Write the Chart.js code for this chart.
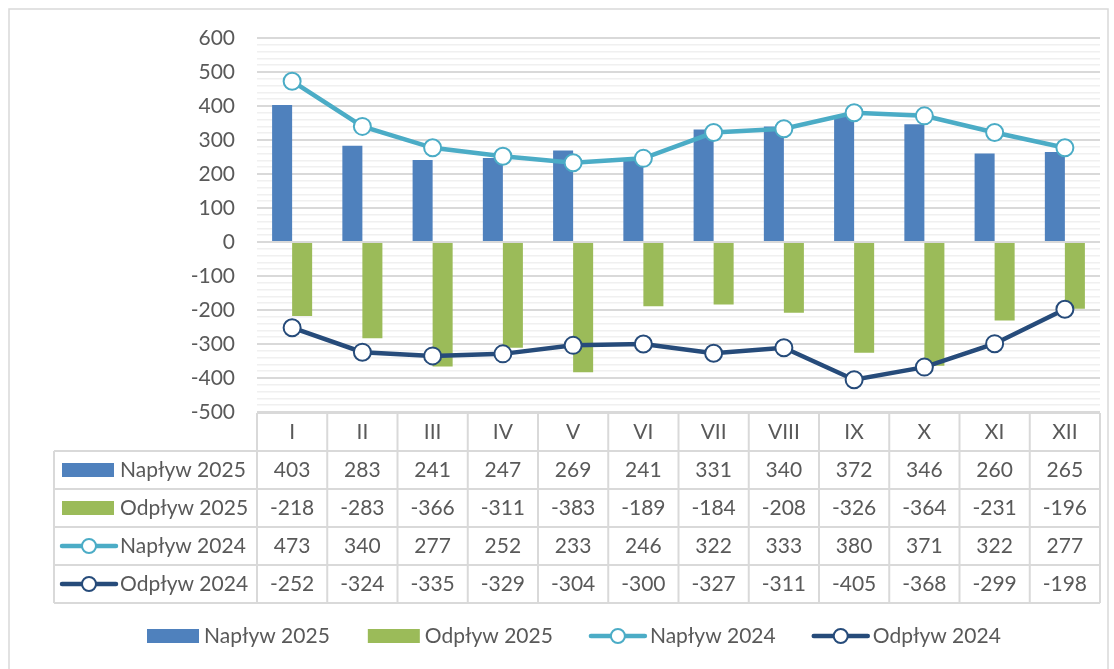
<!DOCTYPE html>
<html>
<head>
<meta charset="utf-8">
<script src="https://cdn.jsdelivr.net/npm/chart.js@4.4.1/dist/chart.umd.min.js"></script>
<style>
  html, body { margin: 0; padding: 0; background: #fff; }
  canvas { display: block; }
</style>
</head>
<body>
<canvas id="chart" width="1114" height="669"></canvas>
<script>
const months = ['I', 'II', 'III', 'IV', 'V', 'VI', 'VII', 'VIII', 'IX', 'X', 'XI', 'XII'];
const naplyw2025 = [403, 283, 241, 247, 269, 241, 331, 340, 372, 346, 260, 265];
const odplyw2025 = [-218, -283, -366, -311, -383, -189, -184, -208, -326, -364, -231, -196];
const naplyw2024 = [473, 340, 277, 252, 233, 246, 322, 333, 380, 371, 322, 277];
const odplyw2024 = [-252, -324, -335, -329, -304, -300, -327, -311, -405, -368, -299, -198];

const FONT = 'Lato, "Open Sans", sans-serif';
const TEXT = '#595959';

// data table + legend under the plot, placed from the x scale
const tablePlugin = {
  id: 'dataTable',
  afterDraw(chart) {
    const ctx = chart.ctx;
    const x = chart.scales.x;
    const area = chart.chartArea;
    const ds = chart.data.datasets;
    const colW = (area.right - area.left) / months.length;
    const top = area.bottom + 1;
    const rowH = 38;
    const tableLeft = 54;

    ctx.save();
    ctx.strokeStyle = '#d9d9d9';
    ctx.lineWidth = 2;

    // horizontal lines
    ctx.beginPath();
    ctx.moveTo(area.left, top); ctx.lineTo(area.right, top);
    for (let r = 1; r <= 5; r++) {
      const y = top + r * rowH;
      ctx.moveTo(tableLeft, y); ctx.lineTo(area.right, y);
    }
    // vertical lines
    for (let c = 0; c <= months.length; c++) {
      const xx = area.left + c * colW;
      ctx.moveTo(xx, top); ctx.lineTo(xx, top + 5 * rowH);
    }
    ctx.moveTo(tableLeft, top + rowH); ctx.lineTo(tableLeft, top + 5 * rowH);
    ctx.stroke();

    ctx.font = '21px ' + FONT;
    ctx.fillStyle = TEXT;
    ctx.textAlign = 'center';
    ctx.textBaseline = 'middle';
    months.forEach((m, i) => {
      ctx.fillText(m, x.getPixelForValue(i), top + rowH / 2);
    });
    ds.forEach((d, r) => {
      const cy = top + (r + 1.5) * rowH;
      ctx.fillStyle = TEXT;
      ctx.textAlign = 'center';
      d.data.forEach((v, i) => {
        ctx.fillText(String(v), x.getPixelForValue(i), cy);
      });
      drawKey(ctx, d, 61, cy);
      ctx.fillStyle = TEXT;
      ctx.textAlign = 'left';
      ctx.fillText(d.label, 120, cy);
    });

    // bottom legend
    let lx = 146;
    const ly = 636;
    ds.forEach((d) => {
      drawKey(ctx, d, lx, ly);
      const tx = lx + (d.type === 'line' ? 60 : 58);
      ctx.fillStyle = TEXT;
      ctx.textAlign = 'left';
      ctx.fillText(d.label, tx, ly);
      lx = tx + ctx.measureText(d.label).width + 37;
    });

    // outer frame
    ctx.strokeStyle = '#d9d9d9';
    ctx.lineWidth = 1.5;
    ctx.strokeRect(9, 9, 1099, 700);
    ctx.restore();
  }
};

function drawKey(ctx, d, x0, cy) {
  if (d.type === 'line') {
    ctx.strokeStyle = d.borderColor;
    ctx.lineWidth = 4.5;
    ctx.lineCap = 'round';
    ctx.beginPath();
    ctx.moveTo(x0 + 1, cy); ctx.lineTo(x0 + 55, cy);
    ctx.stroke();
    ctx.beginPath();
    ctx.arc(x0 + 28, cy, 7, 0, Math.PI * 2);
    ctx.fillStyle = '#fff';
    ctx.fill();
    ctx.lineWidth = 2;
    ctx.stroke();
    ctx.lineCap = 'butt';
  } else {
    ctx.fillStyle = d.backgroundColor;
    ctx.fillRect(x0 + 1, cy - 7, 52, 14);
  }
}

new Chart(document.getElementById('chart'), {
  type: 'bar',
  data: {
    labels: months,
    datasets: [
      {
        label: 'Napływ 2025',
        data: naplyw2025,
        backgroundColor: '#4f81bd',
        categoryPercentage: 0.57,
        barPercentage: 1,
        order: 2
      },
      {
        label: 'Odpływ 2025',
        data: odplyw2025,
        backgroundColor: '#9bbb59',
        categoryPercentage: 0.57,
        barPercentage: 1,
        order: 2
      },
      {
        type: 'line',
        label: 'Napływ 2024',
        data: naplyw2024,
        borderColor: '#4bacc6',
        borderWidth: 4.5,
        pointRadius: 8.5,
        pointBorderWidth: 2,
        pointBackgroundColor: '#fff',
        pointBorderColor: '#4bacc6',
        tension: 0,
        order: 1
      },
      {
        type: 'line',
        label: 'Odpływ 2024',
        data: odplyw2024,
        borderColor: '#264b7a',
        borderWidth: 4.5,
        pointRadius: 8.5,
        pointBorderWidth: 2,
        pointBackgroundColor: '#fff',
        pointBorderColor: '#264b7a',
        tension: 0,
        order: 0
      }
    ]
  },
  options: {
    responsive: false,
    animation: false,
    layout: { padding: { top: 38, right: 14, bottom: 257, left: 0 } },
    plugins: {
      legend: { display: false },
      tooltip: { enabled: false }
    },
    scales: {
      x: {
        display: false,
        offset: true
      },
      y: {
        min: -500,
        max: 600,
        afterFit(scale) { scale.width = 257; },
        border: { display: false },
        grid: {
          drawTicks: false,
          color: (c) => (c.tick && c.tick.value % 100 === 0) ? '#d9d9d9' : '#f0f0f0',
          lineWidth: (c) => (c.tick && c.tick.value % 100 === 0) ? 2 : 1.5
        },
        ticks: {
          stepSize: 20,
          autoSkip: false,
          padding: 22,
          color: TEXT,
          font: { family: FONT, size: 21 },
          callback: (v) => (v % 100 === 0 ? String(v) : '')
        }
      }
    }
  },
  plugins: [tablePlugin]
});
</script>
</body>
</html>
